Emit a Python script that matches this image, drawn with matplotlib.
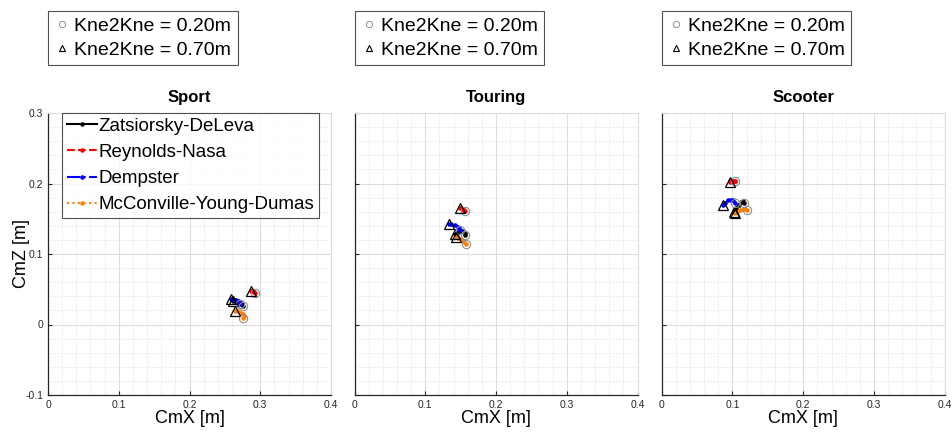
import matplotlib.pyplot as plt
from matplotlib.lines import Line2D

plt.rcParams['font.family'] = ['Liberation Sans', 'DejaVu Sans']

# knee-to-knee distance runs 0.20 -> 0.70 m along each curve (circle -> triangle)
panels = ["Sport", "Touring", "Scooter"]
models = ["Zatsiorsky-DeLeva", "Reynolds-Nasa", "Dempster", "McConville-Young-Dumas"]

sport_x = {
    "Zatsiorsky-DeLeva": [0.275, 0.274, 0.271, 0.268, 0.265, 0.262],
    "Reynolds-Nasa": [0.292, 0.291, 0.290, 0.289, 0.288, 0.287],
    "Dempster": [0.272, 0.271, 0.269, 0.266, 0.262, 0.259],
    "McConville-Young-Dumas": [0.276, 0.277, 0.276, 0.273, 0.269, 0.264],
}
sport_z = {
    "Zatsiorsky-DeLeva": [0.026, 0.029, 0.031, 0.033, 0.034, 0.034],
    "Reynolds-Nasa": [0.045, 0.046, 0.047, 0.047, 0.048, 0.048],
    "Dempster": [0.029, 0.032, 0.034, 0.035, 0.036, 0.036],
    "McConville-Young-Dumas": [0.009, 0.012, 0.015, 0.017, 0.019, 0.019],
}
touring_x = {
    "Zatsiorsky-DeLeva": [0.156, 0.156, 0.154, 0.150, 0.146, 0.142],
    "Reynolds-Nasa": [0.156, 0.155, 0.153, 0.152, 0.150, 0.149],
    "Dempster": [0.149, 0.148, 0.146, 0.142, 0.137, 0.133],
    "McConville-Young-Dumas": [0.157, 0.155, 0.153, 0.150, 0.146, 0.143],
}
touring_z = {
    "Zatsiorsky-DeLeva": [0.127, 0.130, 0.132, 0.132, 0.131, 0.128],
    "Reynolds-Nasa": [0.161, 0.162, 0.163, 0.164, 0.165, 0.165],
    "Dempster": [0.134, 0.137, 0.139, 0.141, 0.142, 0.143],
    "McConville-Young-Dumas": [0.114, 0.117, 0.119, 0.121, 0.123, 0.124],
}
scooter_x = {
    "Zatsiorsky-DeLeva": [0.116, 0.115, 0.112, 0.109, 0.105, 0.102],
    "Reynolds-Nasa": [0.104, 0.103, 0.101, 0.099, 0.097, 0.096],
    "Dempster": [0.103, 0.101, 0.098, 0.094, 0.090, 0.086],
    "McConville-Young-Dumas": [0.120, 0.118, 0.115, 0.111, 0.107, 0.104],
}
scooter_z = {
    "Zatsiorsky-DeLeva": [0.172, 0.175, 0.174, 0.170, 0.165, 0.160],
    "Reynolds-Nasa": [0.204, 0.204, 0.204, 0.203, 0.203, 0.202],
    "Dempster": [0.172, 0.176, 0.177, 0.176, 0.173, 0.170],
    "McConville-Young-Dumas": [0.162, 0.164, 0.164, 0.162, 0.160, 0.158],
}
data = [(sport_x, sport_z), (touring_x, touring_z), (scooter_x, scooter_z)]

x_ticks = [0, 0.1, 0.2, 0.3, 0.4]
x_ticklabels = ['0', '0.1', '0.2', '0.3', '0.4']
z_ticks = [-0.1, 0, 0.1, 0.2, 0.3]
z_ticklabels = ['-0.1', '0', '0.1', '0.2', '0.3']
minor_x = [0.02 * k for k in range(21)]
minor_z = [-0.1 + 0.02 * k for k in range(21)]

colors = {"Zatsiorsky-DeLeva": "black", "Reynolds-Nasa": "#ff0000",
          "Dempster": "#0000ff", "McConville-Young-Dumas": "#ff8000"}
styles = {"Zatsiorsky-DeLeva": "-", "Reynolds-Nasa": "--",
          "Dempster": "-.", "McConville-Young-Dumas": ":"}

fig = plt.figure(figsize=(9.52, 4.32), dpi=100)
lefts = [48 / 952, 354.5 / 952, 661.7 / 952]
axes = [fig.add_axes([l, 37 / 432, 283 / 952, 282 / 432]) for l in lefts]

for i, ax in enumerate(axes):
    xs, zs = data[i]
    for m in models:
        ax.plot(xs[m], zs[m], styles[m], color=colors[m], lw=1.5,
                marker='.', ms=4.5, label=m, zorder=3)
    for m in models:
        ax.plot(xs[m][0], zs[m][0], 'o', mfc='none', mec='#909090', ms=6, mew=0.8, zorder=4)
        ax.plot(xs[m][-1], zs[m][-1], '^', mfc='none', mec='black', ms=6.5, mew=0.9, zorder=4)

    ax.set_xticks(x_ticks)
    ax.set_yticks(z_ticks)
    ax.set_xticks(minor_x, minor=True)
    ax.set_yticks(minor_z, minor=True)
    ax.set_xlim(0, 0.4)
    ax.set_ylim(-0.1, 0.3)
    ax.grid(True, which='major', color='#dcdcdc', lw=0.8, ls='-')
    ax.grid(True, which='minor', color='#d8d8d8', lw=0.6, ls=':')
    ax.set_axisbelow(True)
    ax.tick_params(which='both', direction='in', length=3, labelsize=7.5,
                   colors='#262626', top=False, right=False)
    ax.tick_params(which='minor', length=0)
    ax.set_xticklabels(x_ticklabels)
    for s in ['top', 'right']:
        ax.spines[s].set_color('#dcdcdc')
        ax.spines[s].set_linewidth(0.8)
    for s in ['left', 'bottom']:
        ax.spines[s].set_color('#262626')
        ax.spines[s].set_linewidth(0.9)
    ax.set_title(panels[i], fontsize=12, fontweight='bold', pad=8)
    ax.set_xlabel("CmX [m]", fontsize=13, labelpad=0)

    if i == 0:
        ax.set_yticklabels(z_ticklabels)
        ax.set_ylabel("CmZ [m]", fontsize=13)
        ax.yaxis.set_label_coords(-0.063, 0.5)
        leg = ax.legend(loc='upper left', bbox_to_anchor=(0.049, 1.0), fontsize=13.5,
                        frameon=True, fancybox=False, edgecolor='#262626',
                        borderaxespad=0, handlelength=1.6, handletextpad=0.1,
                        labelspacing=0.48, borderpad=0.25)
        leg.get_frame().set_linewidth(0.8)
    else:
        ax.set_yticklabels([])

    # marker key above each panel
    proxies = [Line2D([], [], ls='none', marker='o', mfc='none', mec='#909090', ms=4.5, mew=0.7),
               Line2D([], [], ls='none', marker='^', mfc='none', mec='black', ms=5, mew=0.8)]
    key = ax.legend(proxies, ["Kne2Kne = 0.20m", "Kne2Kne = 0.70m"], loc='lower left',
                    bbox_to_anchor=(0, 1.17), fontsize=14, frameon=True, fancybox=False,
                    edgecolor='#262626', borderaxespad=0, handlelength=0.8,
                    handletextpad=0.23, labelspacing=0.32, borderpad=0.33)
    key.get_frame().set_linewidth(0.8)
    if i == 0:
        ax.add_artist(leg)

fig.savefig("out.png", dpi=100)
